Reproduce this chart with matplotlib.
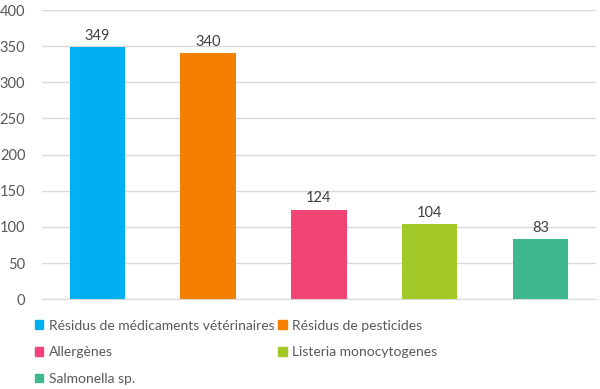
import matplotlib.pyplot as plt
from matplotlib.patches import Patch

categories = ["Résidus de médicaments vétérinaires", "Résidus de pesticides",
              "Allergènes", "Listeria monocytogenes", "Salmonella sp."]
values = [349, 340, 124, 104, 83]
colors = ["#00B0F0", "#F58000", "#F24575", "#A3C928", "#3DB88F"]
yticks = [0, 50, 100, 150, 200, 250, 300, 350, 400]

plt.rcParams['font.family'] = ['Lato', 'DejaVu Sans']

fig = plt.figure(figsize=(6, 3.89), dpi=100)
ax = fig.add_axes([0.07, 0.231, 0.923, 0.743])

x = range(len(values))
bars = ax.bar(x, values, width=0.5, color=colors, zorder=3)
for b, v in zip(bars, values):
    ax.text(b.get_x() + b.get_width() / 2, v + 6, str(v), ha='center', va='bottom',
            fontsize=10.5, color='#404040')

ax.set_xlim(-0.5, len(values) - 0.5)
ax.set_ylim(0, 400)
ax.set_yticks(yticks)
ax.set_xticks([])
ax.tick_params(axis='y', length=0, labelsize=10.5, labelcolor='#595959', pad=12)
ax.grid(axis='y', color='#D9D9D9', linewidth=1, zorder=0)
for s in ['top', 'right', 'left']:
    ax.spines[s].set_visible(False)
ax.spines['bottom'].set_color('#D9D9D9')

handles = [Patch(color=c, label=l) for c, l in zip(colors, categories)]
order = [0, 2, 4, 1, 3]
fig.legend([handles[i] for i in order], [categories[i] for i in order],
           ncol=2, loc='upper left', bbox_to_anchor=(0.058, 0.178),
           frameon=False, fontsize=10, labelcolor='#595959',
           handlelength=0.6, handleheight=0.6, handletextpad=0.4,
           columnspacing=0.3, labelspacing=1.05, borderaxespad=0, borderpad=0)

fig.savefig("out.png", dpi=100)
